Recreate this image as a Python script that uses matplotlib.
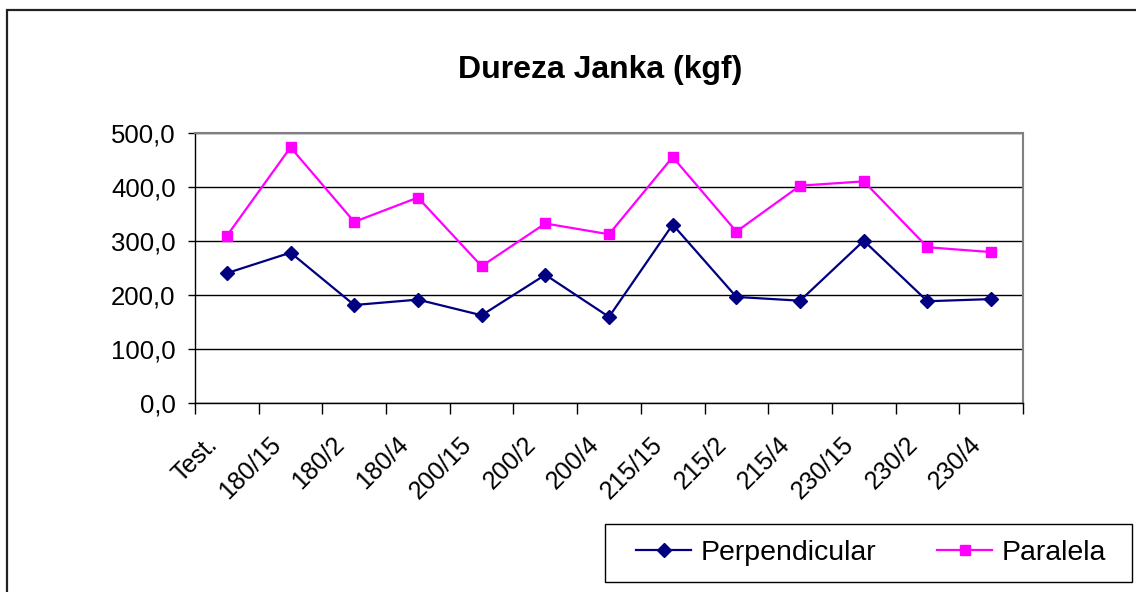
"""
Dureza Janka (kgf): perpendicular vs paralela per treatment.
Output: out.png
"""
import matplotlib.pyplot as plt
import matplotlib.transforms as mtransforms
import numpy as np
from matplotlib.patches import Rectangle

plt.rcParams["font.family"] = ["Liberation Sans", "DejaVu Sans"]

CATEGORIES = ["Test.", "180/15", "180/2", "180/4", "200/15", "200/2", "200/4",
              "215/15", "215/2", "215/4", "230/15", "230/2", "230/4"]
PERPENDICULAR = [241, 279, 182, 192, 163, 238, 160, 331, 197, 190, 301, 189, 193]
PARALELA = [310, 474, 336, 381, 254, 333, 313, 456, 318, 403, 411, 289, 280]
Y_TICKS = [0, 100, 200, 300, 400, 500]
Y_LABELS = ["0,0", "100,0", "200,0", "300,0", "400,0", "500,0"]

NAVY = "#000080"
MAGENTA = "#FF00FF"
W, H = 1136, 592


def main():
    fig = plt.figure(figsize=(W / 100, H / 100), dpi=100)

    # outer chart frame (open on right/bottom, as in the source)
    fig.patches.append(Rectangle((7 / W, -0.1), 1.2, 1 - 10 / H + 0.1,
                                 transform=fig.transFigure, fill=False,
                                 edgecolor="#222222", lw=1.6))

    ax = fig.add_axes([195 / W, 1 - 403.3 / H, 828 / W, 270 / H])
    x = np.arange(len(CATEGORIES))

    ax.plot(x, PERPENDICULAR, color=NAVY, lw=1.6, marker="D", ms=7,
            mfc=NAVY, mec=NAVY, label="Perpendicular", zorder=3)
    ax.plot(x, PARALELA, color=MAGENTA, lw=1.6, marker="s", ms=7.5,
            mfc=MAGENTA, mec=MAGENTA, label="Paralela", zorder=3)

    ax.set_xlim(-0.5, len(CATEGORIES) - 0.5)
    ax.set_ylim(0, 500)
    ax.set_yticks(Y_TICKS)
    ax.set_yticklabels(Y_LABELS, fontsize=18.5)
    ax.tick_params(axis="y", length=5, width=1, pad=9)

    ax.set_xticks(np.arange(-0.5, len(CATEGORIES)), minor=False)
    ax.set_xticklabels([])
    ax.tick_params(axis="x", which="major", length=8, width=1)
    ax.set_xticks(x, minor=True)
    ax.set_xticklabels(CATEGORIES, minor=True, rotation=45, ha="right",
                       va="top", rotation_mode="anchor", fontsize=18)
    ax.tick_params(axis="x", which="minor", length=0, pad=8)
    # Excel-style placement: labels sit lower and a bit left of the centre
    shift = mtransforms.ScaledTranslation(-22 / 100, -18 / 100, fig.dpi_scale_trans)
    for lbl in ax.get_xticklabels(minor=True):
        lbl.set_transform(lbl.get_transform() + shift)

    ax.yaxis.grid(True, color="black", lw=1)
    ax.set_axisbelow(True)
    for side in ("top", "right"):
        ax.spines[side].set_color("#808080")
        ax.spines[side].set_linewidth(1.5)
    for side in ("left", "bottom"):
        ax.spines[side].set_color("black")
        ax.spines[side].set_linewidth(1)

    fig.text(600 / W, 1 - 70 / H, "Dureza Janka (kgf)", ha="center",
             va="center", fontsize=23, fontweight="bold")

    fig.legend(loc="center", bbox_to_anchor=(871 / W, 1 - 552.5 / H),
               ncol=2, fontsize=20.5, frameon=False, handlelength=1.93,
               columnspacing=2.15, borderpad=0, handletextpad=0.32)
    fig.patches.append(Rectangle((605 / W, 1 - 582 / H), 527 / W, 58.5 / H,
                                 transform=fig.transFigure, fill=False,
                                 edgecolor="black", lw=1))

    fig.savefig("out.png", dpi=100, facecolor="white")
    plt.close(fig)


if __name__ == "__main__":
    main()
